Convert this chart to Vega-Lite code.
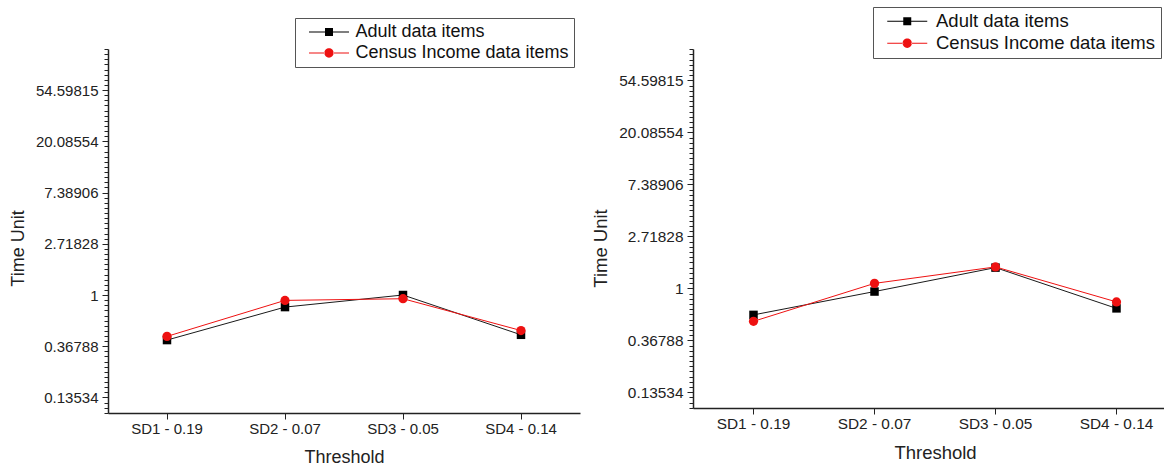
{
  "$schema": "https://vega.github.io/schema/vega-lite/v6.json",
  "autosize": {"type": "none"},
  "padding": {"left": 108, "top": 49, "right": 1056, "bottom": 419},
  "background": "white",
  "spacing": 113,
  "bounds": "flush",
  "datasets": {
    "left": [
      {"threshold": "SD1 - 0.19", "series": "Adult data items", "time": 0.415},
      {"threshold": "SD2 - 0.07", "series": "Adult data items", "time": 0.79},
      {"threshold": "SD3 - 0.05", "series": "Adult data items", "time": 1.0},
      {"threshold": "SD4 - 0.14", "series": "Adult data items", "time": 0.46},
      {"threshold": "SD1 - 0.19", "series": "Census Income data items", "time": 0.446},
      {"threshold": "SD2 - 0.07", "series": "Census Income data items", "time": 0.9},
      {"threshold": "SD3 - 0.05", "series": "Census Income data items", "time": 0.93},
      {"threshold": "SD4 - 0.14", "series": "Census Income data items", "time": 0.5}
    ],
    "right": [
      {"threshold": "SD1 - 0.19", "series": "Adult data items", "time": 0.6},
      {"threshold": "SD2 - 0.07", "series": "Adult data items", "time": 0.94},
      {"threshold": "SD3 - 0.05", "series": "Adult data items", "time": 1.49},
      {"threshold": "SD4 - 0.14", "series": "Adult data items", "time": 0.68},
      {"threshold": "SD1 - 0.19", "series": "Census Income data items", "time": 0.53},
      {"threshold": "SD2 - 0.07", "series": "Census Income data items", "time": 1.1},
      {"threshold": "SD3 - 0.05", "series": "Census Income data items", "time": 1.51},
      {"threshold": "SD4 - 0.14", "series": "Census Income data items", "time": 0.77}
    ]
  },
  "config": {
    "view": {"stroke": null},
    "font": "Liberation Sans",
    "axis": {
      "labelFont": "Liberation Sans", "labelFontSize": 15, "labelColor": "#222",
      "titleFont": "Liberation Sans", "titleFontSize": 18, "titleFontWeight": "normal", "titleColor": "#222",
      "domainColor": "#222", "tickColor": "#222", "grid": false, "domainWidth": 1.5, "tickWidth": 1
    },
    "legend": {
      "labelFont": "Liberation Sans", "labelFontSize": 18, "labelColor": "#111", "labelLimit": 0
    }
  },
  "resolve": {
    "scale": {"color": "independent", "shape": "independent", "x": "independent", "y": "independent"},
    "legend": {"color": "independent", "shape": "independent"}
  },
  "hconcat": [
    {
      "width": 472, "height": 364,
      "data": {"name": "left"},
      "layer": [
        {
          "transform": [{"filter": "datum.series === 'Adult data items'"}],
          "mark": {"type": "line", "color": "#1a1a1a", "strokeWidth": 1},
          "encoding": {
            "x": {"field": "threshold", "type": "nominal", "sort": ["SD1 - 0.19", "SD2 - 0.07", "SD3 - 0.05", "SD4 - 0.14"], "scale": {"type": "band", "paddingInner": 0, "paddingOuter": 0}, "axis": {"title": "Threshold", "labelAngle": 0, "tickSize": 6, "labelPadding": 2, "titlePadding": 12}},
            "y": {"field": "time", "type": "quantitative", "scale": {"type": "log", "base": 2.718281828459045, "domain": [0.1, 121.6], "nice": false},
              "axis": {"title": "Time Unit",
                "values": [0.100259,0.110803,0.122456,0.1353352832,0.149569,0.165299,0.182684,0.201897,0.223130,0.246597,0.272532,0.301194,0.332871,0.3678794412,0.406570,0.449329,0.496585,0.548812,0.606531,0.670320,0.740818,0.818731,0.904837,1,1.105171,1.221403,1.349859,1.491825,1.648721,1.822119,2.013753,2.225541,2.459603,2.7182818285,3.004166,3.320117,3.669297,4.055200,4.481689,4.953032,5.473947,6.049647,6.685894,7.3890560989,8.166170,9.025013,9.974182,11.023176,12.182494,13.463738,14.879732,16.444647,18.174145,20.0855369232,22.197951,24.532530,27.112639,29.964100,33.115452,36.598234,40.447304,44.701184,49.402449,54.5981500331,60.340288,66.686331,73.699794,81.450869,90.017131,99.484316,109.947172,121.510418],
                "labelExpr": "abs(log(datum.value) - round(log(datum.value))) < 0.001 ? format(datum.value, '.5~f') : ''",
                "tickSize": {"condition": {"test": "abs(log(datum.value) - round(log(datum.value))) < 0.001", "value": 6}, "value": 4},
                "labelPadding": 4, "titlePadding": 8, "titleY": 199}}
          }
        },
        {
          "transform": [{"filter": "datum.series === 'Adult data items'"}],
          "mark": {"type": "point", "shape": "square", "filled": true, "color": "#000", "size": 72, "opacity": 1},
          "encoding": {
            "x": {"field": "threshold", "type": "nominal", "sort": ["SD1 - 0.19", "SD2 - 0.07", "SD3 - 0.05", "SD4 - 0.14"]},
            "y": {"field": "time", "type": "quantitative"}
          }
        },
        {
          "transform": [{"filter": "datum.series === 'Census Income data items'"}],
          "mark": {"type": "line", "color": "#ee1111", "strokeWidth": 1},
          "encoding": {
            "x": {"field": "threshold", "type": "nominal", "sort": ["SD1 - 0.19", "SD2 - 0.07", "SD3 - 0.05", "SD4 - 0.14"]},
            "y": {"field": "time", "type": "quantitative"}
          }
        },
        {
          "transform": [{"filter": "datum.series === 'Census Income data items'"}],
          "mark": {"type": "point", "shape": "circle", "filled": true, "color": "#ee1111", "size": 85, "opacity": 1},
          "encoding": {
            "x": {"field": "threshold", "type": "nominal", "sort": ["SD1 - 0.19", "SD2 - 0.07", "SD3 - 0.05", "SD4 - 0.14"]},
            "y": {"field": "time", "type": "quantitative"}
          }
        },
        {
          "transform": [{"filter": "false"}],
          "mark": {"type": "point", "filled": true, "opacity": 1},
          "encoding": {
            "x": {"field": "threshold", "type": "nominal", "sort": ["SD1 - 0.19", "SD2 - 0.07", "SD3 - 0.05", "SD4 - 0.14"]},
            "y": {"field": "time", "type": "quantitative"},
            "color": {"field": "series", "type": "nominal", "scale": {"domain": ["Adult data items", "Census Income data items"], "range": ["#000000", "#ee1111"]},
              "legend": {"orient": "none", "legendX": 187, "legendY": -31, "title": null, "symbolSize": 256, "symbolStrokeWidth": 0, "symbolOpacity": 1, "symbolOffset": 20, "labelOffset": 17.5, "padding": 5, "rowPadding": 3, "strokeColor": "#555", "fillColor": "white", "labelFontSize": 18}},
            "shape": {"field": "series", "type": "nominal", "scale": {"domain": ["Adult data items", "Census Income data items"], "range": ["M-2.5,-0.065H-0.45V0.065H-2.5ZM0.45,-0.065H2.5V0.065H0.45ZM-0.5,-0.5H0.5V0.5H-0.5Z", "M-2.5,-0.065H-0.5V0.065H-2.5ZM0.5,-0.065H2.5V0.065H0.5ZM-0.58,0A0.58,0.58 0 1,0 0.58,0A0.58,0.58 0 1,0 -0.58,0Z"]}}
          }
        }
      ]
    },
    {
      "width": 484, "height": 359,
      "data": {"name": "right"},
      "layer": [
        {
          "transform": [{"filter": "datum.series === 'Adult data items'"}],
          "mark": {"type": "line", "color": "#1a1a1a", "strokeWidth": 1},
          "encoding": {
            "x": {"field": "threshold", "type": "nominal", "sort": ["SD1 - 0.19", "SD2 - 0.07", "SD3 - 0.05", "SD4 - 0.14"], "scale": {"type": "band", "paddingInner": 0, "paddingOuter": 0}, "axis": {"title": "Threshold", "labelAngle": 0, "tickSize": 6, "labelPadding": 2, "titlePadding": 12, "labelFontSize": 15.4, "titleFontSize": 18.5}},
            "y": {"field": "time", "type": "quantitative", "scale": {"type": "log", "base": 2.718281828459045, "domain": [0.1, 100], "nice": false},
              "axis": {"title": "Time Unit",
                "values": [0.100259,0.110803,0.122456,0.1353352832,0.149569,0.165299,0.182684,0.201897,0.223130,0.246597,0.272532,0.301194,0.332871,0.3678794412,0.406570,0.449329,0.496585,0.548812,0.606531,0.670320,0.740818,0.818731,0.904837,1,1.105171,1.221403,1.349859,1.491825,1.648721,1.822119,2.013753,2.225541,2.459603,2.7182818285,3.004166,3.320117,3.669297,4.055200,4.481689,4.953032,5.473947,6.049647,6.685894,7.3890560989,8.166170,9.025013,9.974182,11.023176,12.182494,13.463738,14.879732,16.444647,18.174145,20.0855369232,22.197951,24.532530,27.112639,29.964100,33.115452,36.598234,40.447304,44.701184,49.402449,54.5981500331,60.340288,66.686331,73.699794,81.450869,90.017131,99.484316],
                "labelExpr": "abs(log(datum.value) - round(log(datum.value))) < 0.001 ? format(datum.value, '.5~f') : ''",
                "tickSize": {"condition": {"test": "abs(log(datum.value) - round(log(datum.value))) < 0.001", "value": 6}, "value": 4},
                "labelPadding": 4, "titlePadding": 8, "titleY": 199, "labelFontSize": 15.4, "titleFontSize": 18.5}}
          }
        },
        {
          "transform": [{"filter": "datum.series === 'Adult data items'"}],
          "mark": {"type": "point", "shape": "square", "filled": true, "color": "#000", "size": 72, "opacity": 1},
          "encoding": {
            "x": {"field": "threshold", "type": "nominal", "sort": ["SD1 - 0.19", "SD2 - 0.07", "SD3 - 0.05", "SD4 - 0.14"]},
            "y": {"field": "time", "type": "quantitative"}
          }
        },
        {
          "transform": [{"filter": "datum.series === 'Census Income data items'"}],
          "mark": {"type": "line", "color": "#ee1111", "strokeWidth": 1},
          "encoding": {
            "x": {"field": "threshold", "type": "nominal", "sort": ["SD1 - 0.19", "SD2 - 0.07", "SD3 - 0.05", "SD4 - 0.14"]},
            "y": {"field": "time", "type": "quantitative"}
          }
        },
        {
          "transform": [{"filter": "datum.series === 'Census Income data items'"}],
          "mark": {"type": "point", "shape": "circle", "filled": true, "color": "#ee1111", "size": 85, "opacity": 1},
          "encoding": {
            "x": {"field": "threshold", "type": "nominal", "sort": ["SD1 - 0.19", "SD2 - 0.07", "SD3 - 0.05", "SD4 - 0.14"]},
            "y": {"field": "time", "type": "quantitative"}
          }
        },
        {
          "transform": [{"filter": "false"}],
          "mark": {"type": "point", "filled": true, "opacity": 1},
          "encoding": {
            "x": {"field": "threshold", "type": "nominal", "sort": ["SD1 - 0.19", "SD2 - 0.07", "SD3 - 0.05", "SD4 - 0.14"]},
            "y": {"field": "time", "type": "quantitative"},
            "color": {"field": "series", "type": "nominal", "scale": {"domain": ["Adult data items", "Census Income data items"], "range": ["#000000", "#ee1111"]},
              "legend": {"orient": "none", "legendX": 180, "legendY": -42, "title": null, "symbolSize": 256, "symbolStrokeWidth": 0, "symbolOpacity": 1, "symbolOffset": 20, "labelOffset": 19.5, "padding": 5, "rowPadding": 3, "strokeColor": "#555", "fillColor": "white", "labelFontSize": 18.5}},
            "shape": {"field": "series", "type": "nominal", "scale": {"domain": ["Adult data items", "Census Income data items"], "range": ["M-2.5,-0.065H-0.45V0.065H-2.5ZM0.45,-0.065H2.5V0.065H0.45ZM-0.5,-0.5H0.5V0.5H-0.5Z", "M-2.5,-0.065H-0.5V0.065H-2.5ZM0.5,-0.065H2.5V0.065H0.5ZM-0.58,0A0.58,0.58 0 1,0 0.58,0A0.58,0.58 0 1,0 -0.58,0Z"]}}
          }
        }
      ]
    }
  ]
}
